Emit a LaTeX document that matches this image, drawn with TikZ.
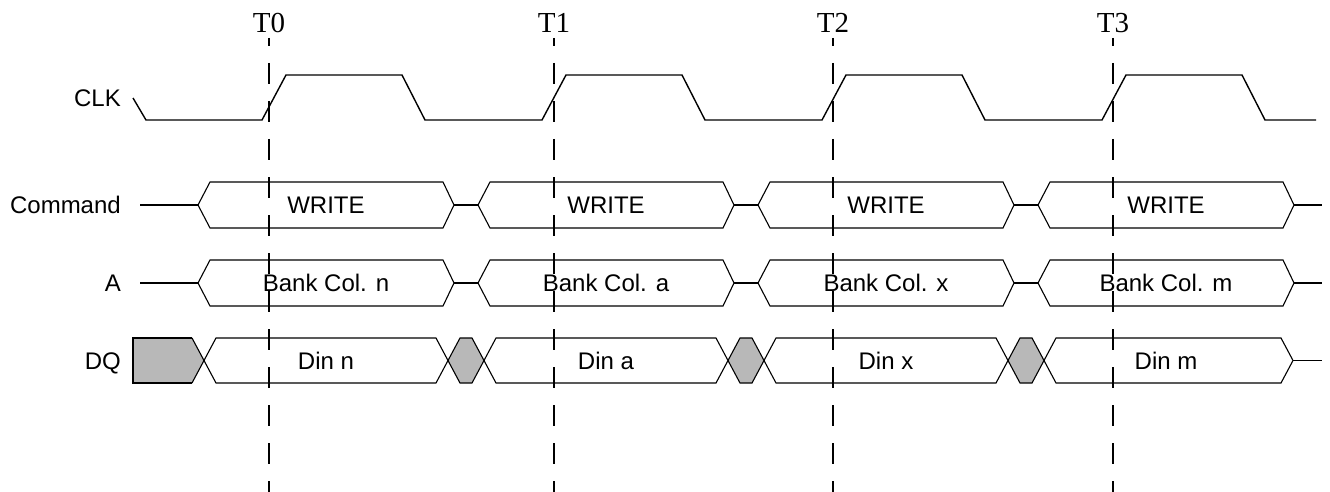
\documentclass[tikz,border=0pt]{standalone}
\usepackage{fontspec}
\setmainfont{Liberation Sans}
\newfontfamily\seriffont{Liberation Serif}
\begin{document}
\begin{tikzpicture}[x=1pt,y=-1pt,
  wave/.style={line width=1.4pt,line join=miter},
  bus/.style={line width=1.1pt,line join=miter},
  lbl/.style={anchor=base east,font=\fontsize{24}{28}\selectfont,inner sep=0pt},
  txt/.style={anchor=base,font=\fontsize{24}{28}\selectfont,inner sep=0pt},
  tlbl/.style={anchor=base,font=\seriffont\fontsize{29}{33}\selectfont,inner sep=0pt},
  tline/.style={line width=2pt,dash pattern=on 21pt off 17pt,dash phase=13pt},
  hatch/.style={fill=black!28}]
\useasboundingbox (0,0) rectangle (1330,492);

% row labels
\node[lbl] (lclk) at (121,107) {CLK};
\node[lbl] (lcmd) at (121,213) {Command};
\node[lbl] (la) at (121,291) {A};
\node[lbl] (ldq) at (121,369) {DQ};

% clock
\draw[wave] (133,98) -- (146,120)
  \foreach \k in {0,...,3} { -- ({262+280*\k},120) -- ({286+280*\k},75) -- ({402+280*\k},75) -- ({425+280*\k},120) }
  -- (1316,120);

% Command and A buses
\foreach \c in {205,283} {
  \draw[bus] (140,\c) -- (198,\c);
  \draw[bus] (1294,\c) -- (1322,\c);
  \foreach \k in {0,...,3} {
    \draw[bus] ({198+280*\k},\c) -- ({210+280*\k},{\c-23}) -- ({443+280*\k},{\c-23}) -- ({454+280*\k},\c) -- ({443+280*\k},{\c+23}) -- ({210+280*\k},{\c+23}) -- cycle;
  }
  \foreach \k in {0,1,2} {
    \draw[bus] ({454+280*\k},\c) -- ({198+280*(\k+1)},\c);
  }
}

% DQ bus
\fill[hatch] (133,338) -- (192,338) -- (204,360.5) -- (192,383) -- (133,383) -- cycle;
\draw[line width=1.8pt] (192,338) -- (133,338) -- (133,383) -- (192,383);
\draw[bus] (192,338) -- (204,360.5) -- (192,383);
\foreach \k in {0,1,2} {
  \filldraw[hatch,bus] ({448+280*\k},360.5) -- ({460+280*\k},338) -- ({472+280*\k},338) -- ({484+280*\k},360.5) -- ({472+280*\k},383) -- ({460+280*\k},383) -- cycle;
  \draw[bus] ({204+280*\k},360.5) -- ({216+280*\k},338) -- ({436+280*\k},338) -- ({448+280*\k},360.5) -- ({436+280*\k},383) -- ({216+280*\k},383) -- cycle;
}
\draw[bus] (1044,360.5) -- (1056,338) -- (1281,338) -- (1293,360.5) -- (1281,383) -- (1056,383) -- cycle;
\draw[bus] (1293,360.5) -- (1322,360.5);

% texts in the buses
\foreach \k/\a/\d in {0/n/n,1/a/a,2/x/x,3/m/m} {
  \node[txt] (cmd\k) at ({326+280*\k},213) {WRITE};
  \node[txt] (addr\k) at ({326+280*\k},291) {Bank Col. \a};
  \node[txt] (din\k) at ({326+280*\k},369) {Din \d};
}

% time markers
\foreach \k/\x in {0/269,1/554,2/833,3/1113} {
  \node[tlbl] (t\k) at (\x,33) {T\k};
  \coordinate (tt\k) at (\x,38);
  \coordinate (tb\k) at (\x,492);
  \draw[tline] (tt\k) -- (tb\k);
}
\end{tikzpicture}
\end{document}
